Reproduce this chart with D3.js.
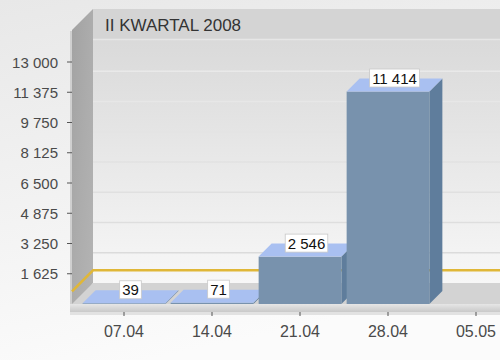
<!DOCTYPE html>
<html>
<head>
<meta charset="utf-8">
<script src="https://cdn.jsdelivr.net/npm/d3@7"></script>
<style>
  body { margin: 0; background: #f4f4f4; }
  svg { display: block; font-family: "Liberation Sans", Arial, sans-serif; }
</style>
</head>
<body>
<svg id="chart" width="500" height="360"></svg>
<script>
// data
const categories = ['07.04', '14.04', '21.04', '28.04', '05.05'];
const barValues = [39, 71, 2546, 11414];
const yTicks = [1625, 3250, 4875, 6500, 8125, 9750, 11375, 13000];
const targetValue = 680;
const chartTitle = 'II KWARTAL 2008';

const svg = d3.select('#chart');
const W = 500, H = 360;

const depth = 21;      // depth of the walls/floor
const barDepth = 13;   // depth of a bar
const frontLeft = 72;
const wallTopFront = 30;

const fmt = d3.formatLocale({ decimal: ',', thousands: ' ', grouping: [3], currency: ['', ''] }).format(',d');

const x = d3.scaleBand()
    .domain(categories)
    .range([80, 520])
    .paddingInner(0.06)
    .paddingOuter(0.03);

const y = d3.scaleLinear()
    .domain([0, 13000])
    .range([304, 62]);

const floorY = y(0);
const bw = x.bandwidth();

//--------DEFS--------
const defs = svg.append('defs');

let bg = defs.append('linearGradient').attr('id', 'bg').attr('x1', 0).attr('y1', 0).attr('x2', 0.3).attr('y2', 1);
bg.append('stop').attr('offset', 0).attr('stop-color', '#e8e8e8');
bg.append('stop').attr('offset', 1).attr('stop-color', '#fbfbfb');

let wall = defs.append('linearGradient').attr('id', 'wall').attr('x1', 0).attr('y1', 0).attr('x2', 0).attr('y2', 1);
wall.append('stop').attr('offset', 0).attr('stop-color', '#d6d6d6');
wall.append('stop').attr('offset', 1).attr('stop-color', '#f7f7f7');

let side = defs.append('linearGradient').attr('id', 'side').attr('x1', 0).attr('y1', 0).attr('x2', 1).attr('y2', 1);
side.append('stop').attr('offset', 0).attr('stop-color', '#a2a2a2');
side.append('stop').attr('offset', 0.5).attr('stop-color', '#acacac');
side.append('stop').attr('offset', 1).attr('stop-color', '#b4b4b4');

let slab = defs.append('linearGradient').attr('id', 'slab').attr('x1', 0).attr('y1', 0).attr('x2', 0).attr('y2', 1);
slab.append('stop').attr('offset', 0).attr('stop-color', '#e6e6e6');
slab.append('stop').attr('offset', 1).attr('stop-color', '#c9c9c9');

svg.append('rect').attr('width', W).attr('height', H).attr('fill', 'url(#bg)');

//--------FRAME--------
// shadow under the floor
svg.append('rect')
    .attr('x', frontLeft - 2).attr('y', floorY + 8)
    .attr('width', W).attr('height', 3)
    .attr('fill', '#e2e2e2');

// back wall
svg.append('rect')
    .attr('x', frontLeft + depth).attr('y', wallTopFront - depth)
    .attr('width', W).attr('height', floorY - wallTopFront)
    .attr('fill', 'url(#wall)');

// title bar
svg.append('rect')
    .attr('x', frontLeft + depth).attr('y', wallTopFront - depth)
    .attr('width', W).attr('height', y(13000) - depth - (wallTopFront - depth) - 2)
    .attr('fill', '#d4d4d4');

svg.append('line')
    .attr('x1', frontLeft + depth).attr('x2', W)
    .attr('y1', y(13000) - depth - 1.5).attr('y2', y(13000) - depth - 1.5)
    .attr('stroke', '#e6e6e6').attr('stroke-width', 1.5);

svg.append('text')
    .attr('x', frontLeft + depth + 12)
    .attr('y', 31)
    .attr('fill', '#333')
    .style('font-size', '17px')
    .text(chartTitle);

// gridlines on back wall: lighter than the wall at the top, darker near the floor
let gridColor = d3.scaleLinear().domain([0, 13000]).range(['#d9d9d9', '#ebebeb']);
svg.append('g')
    .selectAll('line')
    .data(yTicks.slice(0, -1))
    .join('line')
    .attr('x1', frontLeft + depth).attr('x2', W)
    .attr('y1', d => y(d) - depth).attr('y2', d => y(d) - depth)
    .attr('stroke', d => gridColor(d)).attr('stroke-width', 1.5);

// left side wall
svg.append('polygon')
    .attr('points', [
        [frontLeft, wallTopFront], [frontLeft + depth, wallTopFront - depth],
        [frontLeft + depth, floorY - depth], [frontLeft, floorY + 8]
    ].join(' '))
    .attr('fill', 'url(#side)');

svg.append('line')
    .attr('x1', frontLeft - 1).attr('x2', frontLeft - 1)
    .attr('y1', wallTopFront + 1).attr('y2', floorY + 8)
    .attr('stroke', '#cfcfcf').attr('stroke-width', 2);

// floor
svg.append('polygon')
    .attr('points', [
        [frontLeft, floorY], [frontLeft + depth, floorY - depth],
        [W + depth, floorY - depth], [W, floorY]
    ].join(' '))
    .attr('fill', '#d3d3d3');

svg.append('rect')
    .attr('x', frontLeft - 2).attr('y', floorY)
    .attr('width', W).attr('height', 8)
    .attr('fill', 'url(#slab)');

// target line on side and back wall
let yt = y(targetValue);
svg.append('polyline')
    .attr('points', [[frontLeft, yt], [frontLeft + depth, yt - depth], [W, yt - depth]].join(' '))
    .attr('fill', 'none')
    .attr('stroke', '#e0b738')
    .attr('stroke-width', 2.5);

//--------BARS--------
const bars = svg.append('g')
    .selectAll('g')
    .data(barValues.map((v, i) => ({ cat: categories[i], value: v })))
    .join('g');

bars.append('polygon')
    .attr('points', d => {
        let x0 = x(d.cat) + bw, yv = y(d.value);
        return [[x0, yv], [x0 + barDepth, yv - barDepth], [x0 + barDepth, floorY - barDepth], [x0, floorY]].join(' ');
    })
    .attr('fill', '#5f7d9c');

bars.append('rect')
    .attr('x', d => x(d.cat))
    .attr('y', d => y(d.value))
    .attr('width', bw)
    .attr('height', d => floorY - y(d.value))
    .attr('fill', '#7892ad');

bars.append('polygon')
    .attr('points', d => {
        let x0 = x(d.cat), yv = y(d.value);
        return [[x0, yv], [x0 + barDepth, yv - barDepth], [x0 + bw + barDepth, yv - barDepth], [x0 + bw, yv]].join(' ');
    })
    .attr('fill', '#a9c0f1');

// value labels
const labels = svg.append('g')
    .selectAll('g')
    .data(barValues.map((v, i) => ({ cat: categories[i], value: v })))
    .join('g')
    .attr('transform', d => `translate(${x(d.cat) + bw / 2 + barDepth / 2}, ${y(d.value) - barDepth / 2 - 7})`);

labels.append('text')
    .attr('text-anchor', 'middle')
    .attr('y', 5.5)
    .attr('fill', '#111')
    .style('font-size', '15px')
    .text(d => fmt(d.value));

labels.each(function () {
    let g = d3.select(this);
    let box = g.select('text').node().getBBox();
    g.insert('rect', 'text')
        .attr('x', box.x - 2.5).attr('y', -9)
        .attr('width', box.width + 5).attr('height', 18)
        .attr('fill', '#fff')
        .attr('stroke', '#c8c8c8').attr('stroke-width', 0.8);
});

//--------AXES--------
const axisY = svg.append('g');
axisY.selectAll('line')
    .data(yTicks)
    .join('line')
    .attr('x1', frontLeft - 5).attr('x2', frontLeft)
    .attr('y1', d => y(d)).attr('y2', d => y(d))
    .attr('stroke', '#555');

axisY.selectAll('text')
    .data(yTicks)
    .join('text')
    .attr('x', 58)
    .attr('y', d => y(d) + 5.5)
    .attr('text-anchor', 'end')
    .attr('fill', '#4a4a4a')
    .style('font-size', '15px')
    .text(d => fmt(d));

const axisX = svg.append('g');
axisX.selectAll('line')
    .data(categories)
    .join('line')
    .attr('x1', d => x(d) + bw / 2).attr('x2', d => x(d) + bw / 2)
    .attr('y1', floorY + 8).attr('y2', floorY + 12)
    .attr('stroke', '#555');

axisX.selectAll('text')
    .data(categories)
    .join('text')
    .attr('x', d => x(d) + bw / 2)
    .attr('y', 337)
    .attr('text-anchor', 'middle')
    .attr('fill', '#4a4a4a')
    .style('font-size', '16px')
    .text(d => d);
</script>
</body>
</html>
